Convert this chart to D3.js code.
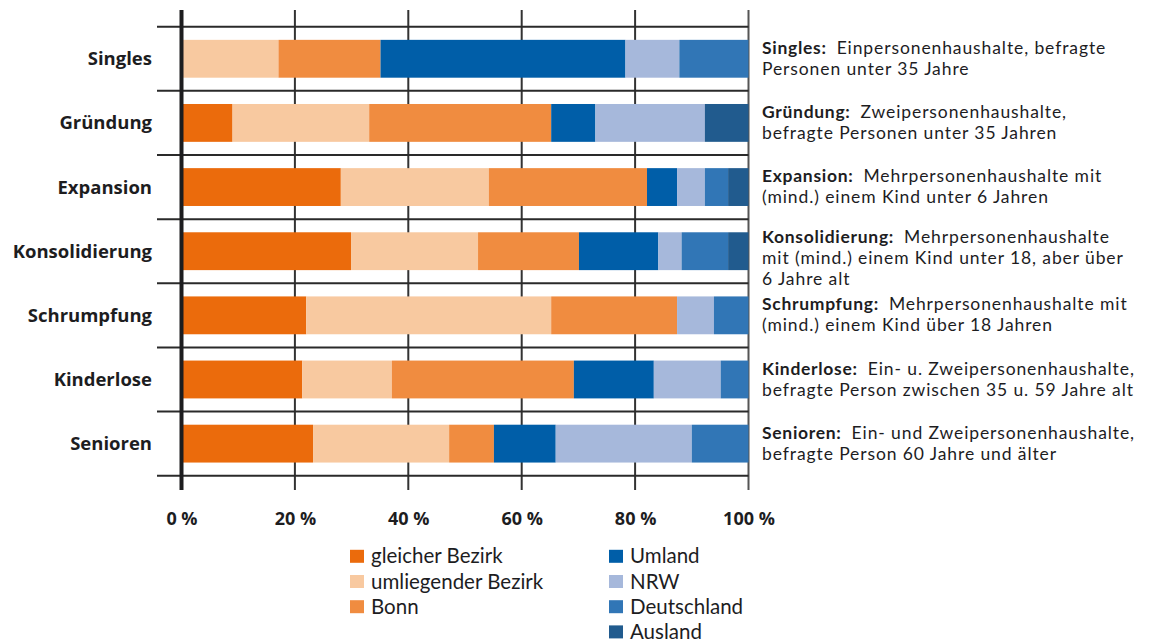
<!DOCTYPE html>
<html><head><meta charset="utf-8">
<script src="https://cdn.jsdelivr.net/npm/d3@7"></script>
<style>
html,body{margin:0;padding:0;background:#fff;}
svg{display:block;font-family:Lato,"Open Sans",sans-serif;}
</style></head>
<body>
<svg id="chart" width="1163" height="643"></svg>
<script>
// ---- data ----
const categories = ["Singles","Gründung","Expansion","Konsolidierung","Schrumpfung","Kinderlose","Senioren"];
const seriesNames = ["gleicher Bezirk","umliegender Bezirk","Bonn","Umland","NRW","Deutschland","Ausland"];
const gleicherBezirk    = [0,   9.0, 28.1, 29.9, 22.0, 21.3, 23.2];
const umliegenderBezirk = [17.1,24.1,26.1, 22.4, 43.2, 15.8, 24.0];
const bonn              = [18.0,32.1,27.9, 17.8, 22.2, 32.1, 7.9];
const umland            = [43.2, 7.8, 5.3, 14.0, 0,   14.1, 10.9];
const nrw               = [9.5, 19.3, 4.9,  4.1,  6.5, 11.8, 24.0];
const deutschland       = [12.2, 0,   4.1,  8.2,  6.1,  4.9, 10.0];
const ausland           = [0,    7.7, 3.6,  3.6,  0,    0,    0];
const tickValues = [0,20,40,60,80,100];
const tickLabels = ["0 %","20 %","40 %","60 %","80 %","100 %"];
const descTerms = ["Singles:","Gründung:","Expansion:","Konsolidierung:","Schrumpfung:","Kinderlose:","Senioren:"];
const descLines = [
  ["Einpersonenhaushalte, befragte","Personen unter 35 Jahre"],
  ["Zweipersonenhaushalte,","befragte Personen unter 35 Jahren"],
  ["Mehrpersonenhaushalte mit","(mind.) einem Kind unter 6 Jahren"],
  ["Mehrpersonenhaushalte","mit (mind.) einem Kind unter 18, aber über","6 Jahre alt"],
  ["Mehrpersonenhaushalte mit","(mind.) einem Kind über 18 Jahren"],
  ["Ein- u. Zweipersonenhaushalte,","befragte Person zwischen 35 u. 59 Jahre alt"],
  ["Ein- und Zweipersonenhaushalte,","befragte Person 60 Jahre und älter"]
];
const colors = ["#EB6B0C","#F8C9A0","#F08C40","#005EA8","#A6B8DB","#3176B6","#215B8E"];

// ---- build ----
const BOLD = "'Open Sans','Noto Sans',sans-serif";
const REG = "Lato,'Open Sans',sans-serif";
const ink = "#1d1d1f";
const seriesArrays = [gleicherBezirk,umliegenderBezirk,bonn,umland,nrw,deutschland,ausland];
const rows = categories.map((c,i)=>{
  const o={category:c};
  seriesNames.forEach((s,j)=>o[s]=seriesArrays[j][i]);
  return o;
});
const svg = d3.select("#chart");
const x = d3.scaleLinear().domain([0,100]).range([181.5,748.5]);
const y = d3.scaleBand().domain(categories).range([26.7,475.7]).paddingInner(0.41).paddingOuter(0.205);
const band = d3.scaleBand().domain(categories).range([26.7,475.7]);
const color = d3.scaleOrdinal().domain(seriesNames).range(colors);
const stack = d3.stack().keys(seriesNames)(rows);

// vertical grid lines
svg.append("g").selectAll("line").data(tickValues.slice(1)).join("line")
  .attr("x1",d=>x(d)).attr("x2",d=>x(d)).attr("y1",10).attr("y2",490)
  .attr("stroke",d=>d===100?"#555":"#333").attr("stroke-width",2);

// separators
const seps = d3.range(categories.length+1).map(i=>26.7 + i*band.step());
svg.append("g").selectAll("line").data(seps).join("line")
  .attr("x1",157).attr("x2",x(100)).attr("y1",d=>d).attr("y2",d=>d)
  .attr("stroke","#2a2a2a").attr("stroke-width",2);

// bars
svg.append("g").selectAll("g").data(stack).join("g")
  .attr("fill",d=>color(d.key))
  .selectAll("rect").data(d=>d).join("rect")
  .attr("x",d=>x(d[0])).attr("width",d=>Math.max(0,x(d[1])-x(d[0])))
  .attr("y",d=>y(d.data.category)).attr("height",y.bandwidth());

// axis line
svg.append("line").attr("x1",x(0)).attr("x2",x(0)).attr("y1",10).attr("y2",490)
  .attr("stroke",ink).attr("stroke-width",4);

// tick labels via axis
const axis = d3.axisBottom(x).tickValues(tickValues).tickFormat((d,i)=>tickLabels[i]).tickSize(0).tickPadding(0);
const ax = svg.append("g").attr("transform","translate(0,519)").call(axis);
ax.select(".domain").remove();
ax.selectAll("text").attr("dy","0.35em").attr("font-family",BOLD).attr("font-size",18).attr("font-weight","bold").attr("fill",ink);

// category labels
svg.append("g").selectAll("text").data(categories).join("text")
  .attr("x",152).attr("y",d=>band(d)+band.bandwidth()/2).attr("dy","0.35em")
  .attr("text-anchor","end").attr("font-family",BOLD).attr("font-size",18.5).attr("font-weight","bold").attr("fill",ink)
  .text(d=>d);

// descriptions
const lh = 21;
categories.forEach((c,i)=>{
  const lines = descLines[i];
  const y0 = band(c)+band.bandwidth()/2 - 11 - (lines.length-2)*3.5;
  const t = svg.append("text").attr("x",762).attr("y",y0)
    .attr("font-family",REG).attr("font-size",17.5).attr("letter-spacing",0.9).attr("fill",ink);
  t.append("tspan").attr("dy","0.35em").attr("font-weight","bold").attr("letter-spacing",0.7).text(descTerms[i]);
  t.append("tspan").attr("dx",10).text(lines[0]);
  lines.slice(1).forEach((l)=>{
    t.append("tspan").attr("x",762).attr("dy",lh).text(l);
  });
});

// legend
const legCols = [[0,1,2],[3,4,5,6]];
const legX = [350,609];
legCols.forEach((col,ci)=>{
  col.forEach((si,ri)=>{
    const yy = 556.3 + ri*25.2;
    svg.append("rect").attr("x",legX[ci]).attr("y",yy-6.5).attr("width",14).attr("height",13).attr("fill",colors[si]);
    svg.append("text").attr("x",legX[ci]+21).attr("y",yy).attr("dy","0.35em")
      .attr("font-family",REG).attr("font-size",20.5).attr("fill",ink).text(seriesNames[si]);
  });
});
</script>
</body></html>
